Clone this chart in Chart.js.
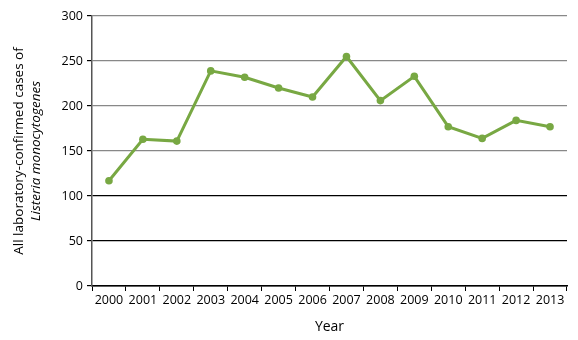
<!DOCTYPE html>
<html>
<head>
<meta charset="utf-8">
<script src="https://cdn.jsdelivr.net/npm/chart.js@4"></script>
<style>
  html, body { margin: 0; padding: 0; background: #fff; }
  #wrap { width: 578px; height: 340px; }
</style>
</head>
<body>
<div id="wrap"><canvas id="chart" width="578" height="340"></canvas></div>
<script>
const years = ["2000", "2001", "2002", "2003", "2004", "2005", "2006",
               "2007", "2008", "2009", "2010", "2011", "2012", "2013"];
const cases = [117, 163, 161, 239, 232, 220, 210, 255, 206, 233, 177, 164, 184, 177];
const yTicks = [0, 50, 100, 150, 200, 250, 300];

const FONT = "'Open Sans', 'DejaVu Sans', sans-serif";

// y title: two lines, second one in italics
const yTitlePlugin = {
    id: "yTitle",
    afterDraw(chart) {
        const { top, bottom } = chart.chartArea;
        const ctx = chart.ctx;
        const midY = (top + bottom) / 2;
        ctx.save();
        ctx.fillStyle = "#000";
        ctx.textAlign = "center";
        ctx.textBaseline = "middle";
        ctx.translate(19, midY);
        ctx.rotate(-Math.PI / 2);
        ctx.font = "13.5px " + FONT;
        ctx.fillText("All laboratory-confirmed cases of", 0, 0);
        ctx.font = "italic 13.5px " + FONT;
        ctx.fillText("Listeria monocytogenes", 0, 17);
        ctx.restore();
    },
};

const config = {
    type: "line",
    data: {
        labels: years,
        datasets: [{
            data: cases,
            borderColor: "#78a843",
            backgroundColor: "#78a843",
            borderWidth: 3,
            pointRadius: 3.8,
            pointBorderWidth: 0,
            pointHoverRadius: 3.8,
            tension: 0,
        }],
    },
    options: {
        responsive: false,
        animation: false,
        layout: { padding: { left: 0, right: 11, top: 16, bottom: 0 } },
        plugins: {
            legend: { display: false },
            tooltip: { enabled: false },
        },
        scales: {
            x: {
                offset: true,
                grid: {
                    offset: true,
                    drawOnChartArea: false,
                    tickLength: 5,
                    tickColor: "#000",
                },
                border: { color: "#000", width: 1.5 },
                ticks: {
                    color: "#000",
                    font: { family: FONT, size: 12.5 },
                    padding: 2,
                    maxRotation: 0,
                    autoSkip: false,
                },
                title: {
                    display: true,
                    text: "Year",
                    color: "#000",
                    font: { family: FONT, size: 14 },
                    padding: { top: 0, bottom: 5 },
                },
                afterFit(scale) { scale.height = 54; },
            },
            y: {
                min: 0,
                max: 300,
                afterBuildTicks(scale) {
                    scale.ticks = yTicks.map(v => ({ value: v }));
                },
                grid: {
                    color: ctx => ctx.tick && ctx.tick.value > 100 ? "#888" : "#000",
                    lineWidth: 1.2,
                    tickLength: 5,
                    tickColor: "#000",
                },
                border: { color: "#555", width: 1.5 },
                ticks: {
                    color: "#000",
                    font: { family: FONT, size: 12.5 },
                    padding: 4,
                },
                afterFit(scale) { scale.width = 92; },
            },
        },
    },
    plugins: [yTitlePlugin],
};

new Chart(document.getElementById("chart").getContext("2d"), config);
</script>
</body>
</html>
